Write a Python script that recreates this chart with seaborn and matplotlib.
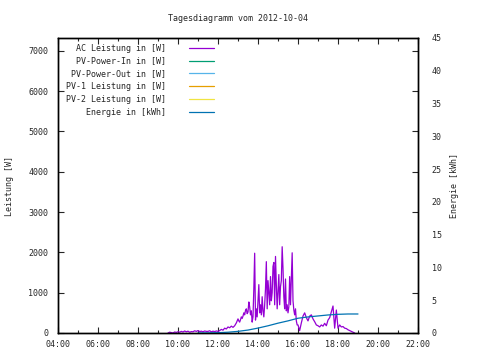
import matplotlib
matplotlib.use("Agg")
import matplotlib.pyplot as plt
import seaborn as sns
import numpy as np
import pandas as pd

# AC power in W: 5-min samples in the morning, 2.5-min around midday,
# 5-min in the evening
ac_morning = [
    0, 20, 10, 0, 25, 15,
    30, 20, 40, 25, 50, 30, 45, 20, 35, 30, 55, 40,
    60, 35, 45, 30, 50, 40, 40, 55, 30, 45, 35, 50,
    40, 60, 90, 70, 120, 100, 150, 130, 170, 140, 180, 250,
]  # 09:30 - 12:55
ac_midday = [
    350, 300, 270, 330, 400, 360, 420, 500, 450, 560, 600, 480,
    520, 770, 650, 450, 550, 270, 400, 1100, 1980, 320, 600, 400,
    820, 1200, 500, 700, 450, 900, 550, 400, 700, 1100, 1770, 600,
    1300, 1000, 700, 1400, 800, 1000, 1650, 1750, 700, 1900, 1200, 600,
    1000, 1450, 700, 1150, 1300, 2140, 1600, 900, 600, 1340, 550, 700,
    500, 650, 1400, 700, 1360, 1990, 800, 570, 450, 600, 300, 200,
]  # 13:00 - 15:57.5
ac_evening = [
    200, 60, 250, 420, 500, 380, 300, 420, 450, 350, 280, 200,
    180, 150, 200, 170, 240, 180, 320, 380, 530, 670, 120, 570,
    120, 200, 150, 160, 120, 110, 80, 60, 40, 20, 0,
]  # 16:00 - 18:50

# cumulative energy in kWh, half-hourly
energy_hours = [11.0, 11.5, 12.0, 12.5, 13.0, 13.5, 14.0, 14.5, 15.0, 15.5,
                16.0, 16.5, 17.0, 17.5, 18.0, 18.5, 19.0]
energy_kwh = [0.0, 0.02, 0.05, 0.12, 0.25, 0.45, 0.75, 1.1, 1.5, 1.85,
              2.25, 2.45, 2.6, 2.75, 2.85, 2.9, 2.9]

# PV series carry no data on this day
pv_in = []
pv_out = []
pv1 = []
pv2 = []

hour_ticks = [4, 6, 8, 10, 12, 14, 16, 18, 20, 22]
hour_labels = ["04:00", "06:00", "08:00", "10:00", "12:00", "14:00",
               "16:00", "18:00", "20:00", "22:00"]
watt_ticks = [0, 1000, 2000, 3000, 4000, 5000, 6000, 7000]
kwh_ticks = [0, 5, 10, 15, 20, 25, 30, 35, 40, 45]

sns.set_style("ticks")
plt.rcParams['font.family'] = ['DejaVu Sans Mono']
plt.rcParams['font.size'] = 6

ac_hours = np.concatenate([
    9.5 + np.arange(len(ac_morning)) / 12.0,
    13.0 + np.arange(len(ac_midday)) / 24.0,
    16.0 + np.arange(len(ac_evening)) / 12.0,
])
ac_df = pd.DataFrame({"hour": ac_hours,
                      "watt": ac_morning + ac_midday + ac_evening})
en_df = pd.DataFrame({"hour": energy_hours, "kwh": energy_kwh})

fig = plt.figure(figsize=(4.8, 3.6), dpi=100)
ax = fig.add_axes([58 / 480, 27 / 360, 360 / 480, 295 / 360])
ax2 = ax.twinx()

lw = 0.9
sns.lineplot(data=ac_df, x="hour", y="watt", ax=ax, color="#9400D3", lw=lw,
             label="AC Leistung in [W]", legend=False)
ax.plot(pv_in, pv_in, color="#009E73", lw=lw, label="PV-Power-In in [W]")
ax.plot(pv_out, pv_out, color="#56B4E9", lw=lw, label="PV-Power-Out in [W]")
ax.plot(pv1, pv1, color="#E69F00", lw=lw, label="PV-1 Leistung in [W]")
ax.plot(pv2, pv2, color="#F0E442", lw=lw, label="PV-2 Leistung in [W]")
sns.lineplot(data=en_df, x="hour", y="kwh", ax=ax2, color="#0072B2", lw=lw,
             label="Energie in [kWh]", legend=False)

ax.set_xlim(4, 22)
ax.set_ylim(0, 7320)
ax2.set_ylim(0, 45)

ax.set_xticks(hour_ticks)
ax.set_xticklabels(hour_labels)
ax.set_xticks(np.arange(5, 22, 2), minor=True)
ax.set_yticks(watt_ticks)
ax.set_yticklabels([str(v) for v in watt_ticks])
ax2.set_yticks(kwh_ticks)
ax2.set_yticklabels([str(v) for v in kwh_ticks])

ax.tick_params(axis="both", which="both", direction="in", top=True, right=True,
               length=4, width=0.8, labelsize=6, pad=7)
ax.tick_params(axis="x", which="both", pad=5)
ax.tick_params(axis="x", which="minor", length=2)
ax2.tick_params(axis="y", length=0, labelsize=6, pad=10)
for a in (ax, ax2):
    for s in a.spines.values():
        s.set_linewidth(1.0)
        s.set_color("black")

ax.set_xlabel("")
ax.set_ylabel("Leistung [W]", fontsize=6, labelpad=10)
ax2.set_ylabel("Energie [kWh]", fontsize=6, rotation=90, labelpad=6)
ax.set_title("Tagesdiagramm vom 2012-10-04", fontsize=6, pad=12)

h1, l1 = ax.get_legend_handles_labels()
h2, l2 = ax2.get_legend_handles_labels()
ax2.legend(h1 + h2, l1 + l2, loc="upper left", markerfirst=False, frameon=False,
           fontsize=6, handlelength=3.0, handletextpad=2.8, labelspacing=0.45,
           borderaxespad=0.3, bbox_to_anchor=(0.005, 1.0))

fig.savefig("out.png", dpi=100)
